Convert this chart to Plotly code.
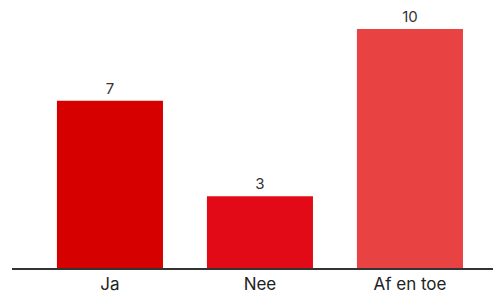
import plotly.graph_objects as go

categories = ["Ja", "Nee", "Af en toe"]
values = [7, 3, 10]
colors = ["#D70000", "#E20A17", "#E84242"]

fig = go.Figure(go.Bar(
    x=categories, y=values,
    marker=dict(color=colors, line=dict(width=0)),
    text=[str(v) for v in values],
    textposition="outside",
    textfont=dict(family="Inter, Lato, sans-serif", size=15, color="#333333"),
    cliponaxis=False,
))

# page body has an 8px default margin, so the figure is sized to fit the window
fig.update_layout(
    width=493, height=285,
    margin=dict(l=4, r=0, t=0, b=25),
    paper_bgcolor="white", plot_bgcolor="white",
    bargap=0.293,
    showlegend=False,
    xaxis=dict(
        range=[-0.653, 2.607],
        showline=True, linecolor="#333333", linewidth=1.5,
        showgrid=False, zeroline=False, ticks="",
        tickfont=dict(family="Inter, Lato, sans-serif", size=17, color="#222222"),
    ),
    yaxis=dict(
        range=[0, 10.88], visible=False, showgrid=False, zeroline=False,
    ),
)

fig.write_html("out.html")
